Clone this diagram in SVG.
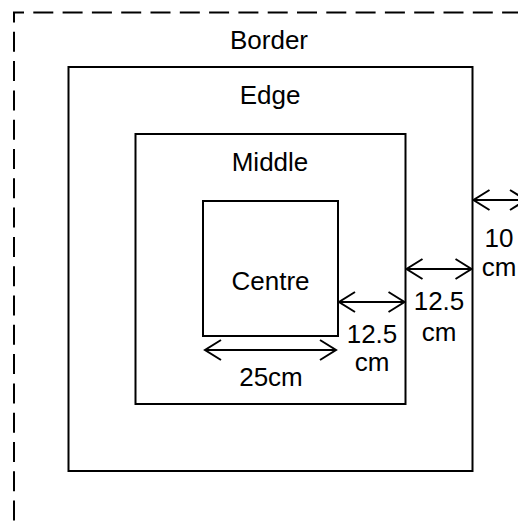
<svg xmlns="http://www.w3.org/2000/svg" width="518" height="522" viewBox="0 0 518 522">
<style>
  .box { fill: none; stroke: #000; stroke-width: 2; }
  .dash { fill: none; stroke: #000; stroke-width: 2; stroke-dasharray: 20 9.3; stroke-dashoffset: 19.9; }
  .lbl { font-family: "Liberation Sans", Arial, sans-serif; font-size: 26px; fill: #000; text-anchor: middle; }
  .arr { fill: none; stroke: #000; stroke-width: 2; }
</style>
<defs>
  <marker id="head" viewBox="-17 -12 19 24" markerWidth="19" markerHeight="24" refX="0" refY="0" orient="auto-start-reverse" markerUnits="userSpaceOnUse">
    <path d="M-16,-10 L0,0 L-16,10" fill="none" stroke="#000" stroke-width="2"/>
  </marker>
</defs>
<rect width="518" height="522" fill="#fff"/>
<g id="border">
  <path class="dash" d="M14,530 V12.5 H530"/>
  <text class="lbl" x="269" y="48.7">Border</text>
</g>
<g id="edge">
  <rect class="box" x="68.5" y="67" width="404" height="404"/>
  <text class="lbl" x="270" y="103.7">Edge</text>
</g>
<g id="middle">
  <rect class="box" x="135.5" y="134" width="270" height="270"/>
  <text class="lbl" x="270" y="170.5">Middle</text>
</g>
<g id="centre">
  <rect class="box" x="203" y="201" width="135" height="135"/>
  <text class="lbl" x="270.5" y="290">Centre</text>
</g>
<g id="connectors">
  <line class="arr" x1="205" y1="350" x2="336" y2="350" marker-start="url(#head)" marker-end="url(#head)"/>
  <line class="arr" x1="339" y1="302" x2="404.5" y2="302" marker-start="url(#head)" marker-end="url(#head)"/>
  <line class="arr" x1="406.5" y1="269" x2="471.5" y2="269" marker-start="url(#head)" marker-end="url(#head)"/>
  <line class="arr" x1="473.5" y1="200" x2="526" y2="200" marker-start="url(#head)" marker-end="url(#head)"/>
</g>
<g id="labels">
  <text class="lbl" x="271" y="386">25cm</text>
  <text class="lbl" x="372" y="343">12.5</text>
  <text class="lbl" x="372" y="371">cm</text>
  <text class="lbl" x="439" y="310">12.5</text>
  <text class="lbl" x="439" y="341">cm</text>
  <text class="lbl" x="499" y="247">10</text>
  <text class="lbl" x="499" y="276">cm</text>
</g>
</svg>
